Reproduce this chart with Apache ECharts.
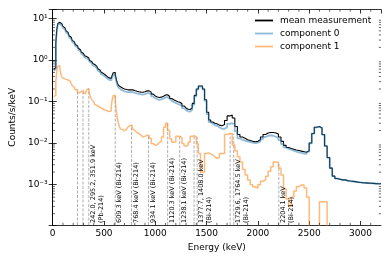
<!DOCTYPE html>
<html><head><meta charset="utf-8">
<script src="https://cdn.jsdelivr.net/npm/echarts@6/dist/echarts.min.js"></script>
<style>html,body{margin:0;padding:0;background:#fff}#c{width:390px;height:260px}</style>
</head><body><div id="c"></div>
<script>
// ---- binning: [start, end, width] keV ----
const binSegments = [[0, 800, 10], [800, 1600, 20], [1600, 3200, 25]];
// ---- data ----
const meanMeasurement = [
  // 0-800 keV, 10 keV bins
  null, null, 0.6, 0.65, 2.5, 5.5, 7.5, 8.0, 7.6, 7.3,
  7.0, 6.4, 5.9, 5.4, 5.0, 4.6, 4.2, 3.8, 3.5, 3.2,
  2.95, 2.75, 2.55, 2.35, 2.2, 2.05, 1.9, 1.75, 1.62, 1.52,
  1.42, 1.34, 1.26, 1.2, 1.16, 1.13, 1.04, 0.97, 0.92, 0.87,
  0.82, 0.78, 0.74, 0.7, 0.65, 0.61, 0.57, 0.54, 0.51, 0.48,
  0.46, 0.44, 0.42, 0.4, 0.38, 0.37, 0.36, 0.36, 0.38, 0.43,
  0.49, 0.5, 0.44, 0.34, 0.28, 0.245, 0.225, 0.215, 0.21, 0.205,
  0.2, 0.197, 0.194, 0.192, 0.19, 0.19, 0.192, 0.193, 0.19, 0.187,
  // 800-1600 keV, 20 keV bins
  0.183, 0.177, 0.172, 0.168, 0.167, 0.172, 0.18, 0.18, 0.168, 0.15,
  0.136, 0.128, 0.125, 0.127, 0.133, 0.143, 0.145, 0.132, 0.118, 0.11,
  0.104, 0.099, 0.096, 0.088, 0.078, 0.07, 0.065, 0.064, 0.07, 0.09,
  0.14, 0.2, 0.235, 0.235, 0.2, 0.11, 0.055, 0.036, 0.032, 0.03,
  // 1600-3200 keV, 25 keV bins
  0.029, 0.027, 0.026, 0.028, 0.035, 0.045, 0.047, 0.04, 0.025, 0.016,
  0.014, 0.013, 0.012, 0.0115, 0.011, 0.0108, 0.011, 0.012, 0.014, 0.016,
  0.0175, 0.018, 0.018, 0.0175, 0.0165, 0.014, 0.011, 0.0088, 0.0078, 0.0074,
  0.0071, 0.0068, 0.0066, 0.0064, 0.0062, 0.006, 0.0065, 0.01, 0.017, 0.024,
  0.025, 0.023, 0.016, 0.0085, 0.0045, 0.0025, 0.0016, 0.0014, 0.00135, 0.0013,
  0.0013, 0.00125, 0.00122, 0.0012, 0.00118, 0.00115, 0.00113, 0.00111, 0.0011, 0.00109,
  0.00108, 0.00107, 0.00106, 0.00105
];
const component0 = [
  null, null, 0.55, 0.6, 2.3, 5.1, 7.0, 7.4, 7.0, 6.7,
  6.4, 5.9, 5.4, 5.0, 4.6, 4.2, 3.85, 3.5, 3.2, 2.95,
  2.7, 2.52, 2.34, 2.16, 2.02, 1.88, 1.74, 1.6, 1.49, 1.4,
  1.3, 1.23, 1.16, 1.1, 1.06, 1.03, 0.95, 0.89, 0.84, 0.8,
  0.75, 0.71, 0.67, 0.64, 0.59, 0.55, 0.52, 0.49, 0.46, 0.435,
  0.415, 0.395, 0.378, 0.36, 0.342, 0.333, 0.323, 0.322, 0.338, 0.38,
  0.43, 0.44, 0.39, 0.3, 0.247, 0.216, 0.198, 0.19, 0.185, 0.181,
  0.176, 0.173, 0.171, 0.169, 0.167, 0.167, 0.169, 0.17, 0.167, 0.165,
  0.161, 0.156, 0.152, 0.148, 0.147, 0.151, 0.158, 0.158, 0.148, 0.132,
  0.12, 0.113, 0.11, 0.112, 0.117, 0.125, 0.127, 0.116, 0.104, 0.097,
  0.092, 0.087, 0.084, 0.078, 0.069, 0.062, 0.058, 0.057, 0.063, 0.083,
  0.132, 0.192, 0.228, 0.23, 0.193, 0.104, 0.05, 0.032, 0.029, 0.027,
  0.026, 0.024, 0.022, 0.022, 0.024, 0.029, 0.03, 0.028, 0.019, 0.013,
  0.012, 0.0115, 0.011, 0.0105, 0.0102, 0.01, 0.0102, 0.011, 0.0125, 0.014,
  0.015, 0.0153, 0.015, 0.0142, 0.0132, 0.0118, 0.0095, 0.0079, 0.0072, 0.0069,
  0.0066, 0.0062, 0.006, 0.0058, 0.0056, 0.0055, 0.0062, 0.0098, 0.0168, 0.0238,
  0.0248, 0.0228, 0.0158, 0.0084, 0.0044, 0.0025, 0.0016, 0.0014, 0.00135, 0.0013,
  0.0013, 0.00125, 0.00122, 0.0012, 0.00118, 0.00115, 0.00113, 0.00111, 0.0011, 0.00109,
  0.00108, 0.00107, 0.00106, 0.00105
];
const component1 = [
  null, null, 0.13, 0.14, 0.3, 0.55, 0.7, 0.72, 0.6, 0.45,
  0.38, 0.36, 0.35, 0.34, 0.34, 0.33, 0.32, 0.31, 0.29, 0.27,
  0.24, 0.22, 0.2, 0.19, 0.195, 0.17, 0.16, 0.16, 0.175, 0.195,
  0.18, 0.16, 0.155, 0.16, 0.19, 0.205, 0.19, 0.15, 0.125, 0.11,
  0.1, 0.092, 0.085, 0.08, 0.077, 0.075, 0.072, 0.07, 0.068, 0.066,
  0.064, 0.062, 0.061, 0.06, 0.058, 0.057, 0.056, 0.06, 0.075, 0.11,
  0.14, 0.14, 0.1, 0.06, 0.04, 0.03, 0.025, 0.022, 0.021, 0.02,
  0.02, 0.02, 0.021, 0.022, 0.024, 0.026, 0.027, 0.027, 0.025, 0.022,
  0.02, 0.018, 0.017, 0.0155, 0.014, 0.0145, 0.0155, 0.0155, 0.013, 0.0098,
  0.0088, 0.0092, 0.0102, 0.011, 0.014, 0.024, 0.03, 0.02, 0.0125, 0.0105,
  0.0108, 0.0145, 0.0145, 0.0135, 0.0098, 0.0085, 0.0088, 0.0105, 0.0145, 0.015,
  0.014, 0.0095, 0.0056, 0.002, 0.002, 0.0056, 0.0058, 0.0055, 0.0051, 0.0047,
  0.0043, 0.0045, 0.0056, 0.0056, 0.016, 0.017, 0.017, 0.009, 0.0065, 0.0047,
  0.0035, 0.0023, 0.0017, 0.0013, 0.001, 0.00088, 0.00083, 0.001, 0.0012, 0.0013,
  0.0016, 0.0021, 0.0027, 0.0035, 0.0035, 0.0025, 0.0017, 0.0008, 0.00045, 0.0003,
  0.0005, 0.0007, 0.0009, 0.00098, 0.00098, 0.00083, 0.0005, 0.00001, 0.00001, 0.00001,
  0.00001, 0.00039, 0.00039, 0.00039, 0.00001, 0.00001, 0.00001, 0.00001, 0.00001, 0.00001,
  0.00001, 0.00001, 0.00001, 0.00001, 0.00001, 0.00001, 0.00001, 0.00001, 0.00001, 0.00001,
  0.00001, 0.00001, 0.00001, 0.00001
];
const peakEnergies = [242.0, 295.2, 351.9, 609.3, 768.4, 934.1, 1120.3, 1238.1, 1377.7, 1408.0, 1729.6, 1764.5, 2204.1];
const peakHeights  = [0.195, 0.195, 0.205, 0.14, 0.027, 0.0155, 0.03, 0.0145, 0.015, 0.014, 0.017, 0.017, 0.0035];
const labelEnergies = [351.9, 609.3, 768.4, 934.1, 1120.3, 1238.1, 1408.0, 1764.5, 2204.1];
const labelTexts = [
  '242.0, 295.2, 351.9 keV\n(Pb-214)',
  '609.3 keV (Bi-214)',
  '768.4 keV (Bi-214)',
  '934.1 keV (Bi-214)',
  '1120.3 keV (Bi-214)',
  '1238.1 keV (Bi-214)',
  '1377.7, 1408.0 keV\n(Bi-214)',
  '1729.6, 1764.5 keV\n(Bi-214)',
  '2204.1 keV\n(Bi-214)'
];
const xMin = 0, xMax = 3200, xMajor = 500, xMinor = 100;
const yMin = 1.07e-4, yMax = 16.3;
const yDecades = [-4, -3, -2, -1, 0, 1];

// ---- helpers ----
const binEdges = [];
binSegments.forEach(([a, b, w]) => { for (let e = a; e < b; e += w) binEdges.push(e); });
binEdges.push(binSegments[binSegments.length - 1][1]);
function toSteps(vals) {
  const d = vals.map((v, i) => [binEdges[i], v]);
  d.push([binEdges[vals.length], vals[vals.length - 1]]);
  return d;
}
const SUP = {'-': '\u207b', '0': '\u2070', '1': '\u00b9', '2': '\u00b2', '3': '\u00b3', '4': '\u2074'};
function logLabel(v) {
  const l = Math.log10(v), e = Math.round(l);
  if (Math.abs(l - e) > 1e-6) return '';
  return '10' + String(e).split('').map(c => SUP[c]).join('');
}
const minorData = [];
for (let x = xMinor; x < xMax; x += xMinor) if (x % xMajor !== 0) minorData.push([x, 1, 0]);
yDecades.forEach(d => { for (let m = 2; m <= 9; m++) { const v = m * Math.pow(10, d); if (v > yMin && v < yMax) minorData.push([1, v, 1]); } });

const FONT = 'DejaVu Sans';
const chart = echarts.init(document.getElementById('c'), null, {renderer: 'canvas'});
const axisLine = {show: true, lineStyle: {color: '#000', width: 0.8}};
const tick = {show: true, inside: true, length: 4, lineStyle: {color: '#000', width: 0.8}};

chart.setOption({
  animation: false,
  textStyle: {fontFamily: FONT},
  grid: {left: 46.5, top: 9.5, width: 334.5, height: 215.5, containLabel: false},
  legend: {
    orient: 'vertical', left: 255, top: 16, padding: 0, icon: 'rect',
    itemWidth: 18, itemHeight: 1.8, itemGap: 4,
    textStyle: {fontSize: 9, color: '#000', fontFamily: FONT, padding: [0, 0, 0, 2]},
    data: ['mean measurement', 'component 0', 'component 1']
  },
  xAxis: [{
    type: 'value', min: xMin, max: xMax, interval: xMajor, position: 'bottom',
    axisLine, axisTick: tick, splitLine: {show: false},
    axisLabel: {fontSize: 9, color: '#000', margin: 4, showMaxLabel: false, fontFamily: FONT,
      formatter: v => String(v)},
    name: 'Energy (keV)', nameLocation: 'middle', nameGap: 16,
    nameTextStyle: {fontSize: 9, color: '#000', fontFamily: FONT}
  }, {
    type: 'value', min: xMin, max: xMax, interval: xMajor, position: 'top',
    axisLine, axisTick: tick, splitLine: {show: false}, axisLabel: {show: false}
  }],
  yAxis: [{
    type: 'log', logBase: 10, min: yMin, max: yMax, position: 'left',
    axisLine, axisTick: tick, splitLine: {show: false},
    axisLabel: {fontSize: 9, color: '#000', margin: 5, formatter: logLabel, fontFamily: FONT},
    name: 'Counts/s/keV', nameLocation: 'middle', nameGap: 29,
    nameTextStyle: {fontSize: 9, color: '#000', fontFamily: FONT}
  }, {
    type: 'log', logBase: 10, min: yMin, max: yMax, position: 'right',
    axisLine, axisTick: tick, splitLine: {show: false}, axisLabel: {show: false}
  }],
  series: [
    {
      name: 'mean measurement', type: 'line', step: 'start', symbol: 'none', showSymbol: false,
      data: toSteps(meanMeasurement), color: '#000', lineStyle: {color: '#000', width: 1.1}, clip: true, z: 2
    },
    {
      name: 'component 0', type: 'line', step: 'start', symbol: 'none', showSymbol: false,
      data: toSteps(component0), color: 'rgba(31,119,180,0.5)',
      lineStyle: {color: 'rgba(31,119,180,0.5)', width: 1.8}, clip: true, z: 3
    },
    {
      name: 'component 1', type: 'line', step: 'start', symbol: 'none', showSymbol: false,
      data: toSteps(component1), color: 'rgba(255,127,14,0.55)',
      lineStyle: {color: 'rgba(255,127,14,0.55)', width: 1.5}, clip: true, z: 4
    },
    {
      type: 'custom', silent: true, z: 1,
      data: peakEnergies.map((e, i) => [e, peakHeights[i]]),
      renderItem: (params, api) => {
        const p = api.coord([api.value(0), api.value(1)]);
        const cs = params.coordSys;
        return {type: 'line', shape: {x1: p[0], y1: cs.y + cs.height, x2: p[0], y2: p[1]},
          style: {stroke: 'rgba(0,0,0,0.45)', lineWidth: 0.7, lineDash: [3, 1.5]}};
      }
    },
    {
      type: 'custom', silent: true, z: 5,
      data: labelEnergies.map((e, i) => [e, 1, i]),
      renderItem: (params, api) => {
        const p = api.coord([api.value(0), 1]);
        const cs = params.coordSys;
        return {type: 'text', x: p[0] + 0.5, y: cs.y + cs.height - 2, rotation: Math.PI / 2,
          style: {text: labelTexts[api.value(2)], fill: '#000', fontSize: 6.5, fontFamily: FONT,
            lineHeight: 8, align: 'left', verticalAlign: 'top'}};
      }
    },
    {
      type: 'custom', silent: true, z: 6,
      data: minorData,
      renderItem: (params, api) => {
        const cs = params.coordSys;
        const st = {stroke: '#000', lineWidth: 0.6};
        if (api.value(2) === 0) {
          const x = api.coord([api.value(0), 1])[0];
          return {type: 'group', children: [
            {type: 'line', shape: {x1: x, y1: cs.y + cs.height, x2: x, y2: cs.y + cs.height - 2.2}, style: st},
            {type: 'line', shape: {x1: x, y1: cs.y, x2: x, y2: cs.y + 2.2}, style: st}
          ]};
        }
        const y = api.coord([1, api.value(1)])[1];
        return {type: 'group', children: [
          {type: 'line', shape: {x1: cs.x, y1: y, x2: cs.x + 2.2, y2: y}, style: st},
          {type: 'line', shape: {x1: cs.x + cs.width, y1: y, x2: cs.x + cs.width - 2.2, y2: y}, style: st}
        ]};
      }
    }
  ]
});
</script></body></html>
